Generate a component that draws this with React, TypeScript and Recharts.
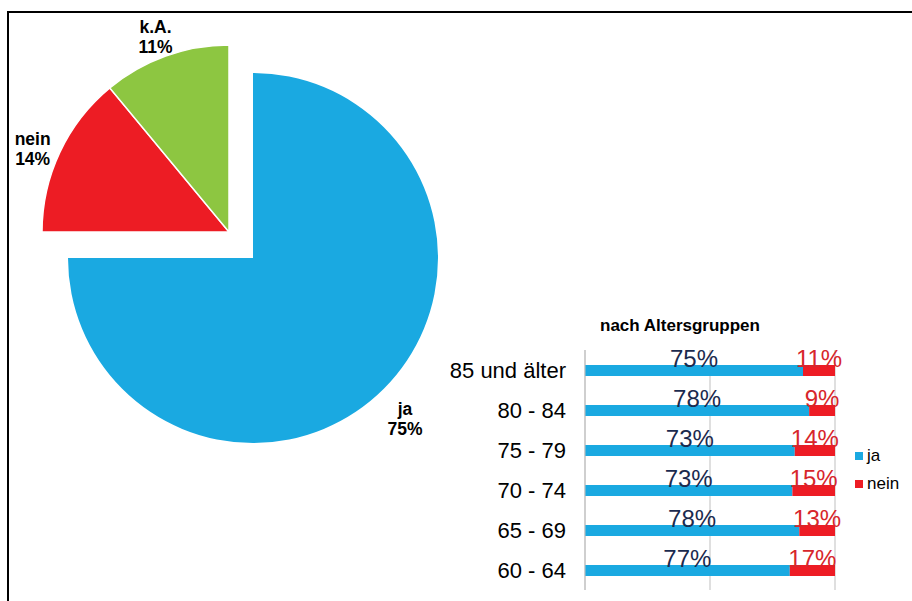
import React from 'react';
import { PieChart, Pie, Cell, BarChart, Bar, XAxis, YAxis, CartesianGrid, LabelList, Legend } from 'recharts';

const FONT = 'Liberation Sans, Arial, Helvetica, sans-serif';

// Pie data
const pieNames = ['ja', 'nein', 'k.A.'];
const pieValues = [75, 14, 11];
const pieColors = ['#1AA9E1', '#ED1C24', '#8DC641'];

// Bar data
const ageGroups = ['85 und älter', '80 - 84', '75 - 79', '70 - 74', '65 - 69', '60 - 64'];
const jaValues = [75, 78, 73, 73, 78, 77];
const neinValues = [11, 9, 14, 15, 13, 17];

const pieData = pieNames.map((name, i) => ({ name, value: pieValues[i] }));
const barData = ageGroups.map((age, i) => ({ age, ja: jaValues[i], nein: neinValues[i] }));

const RADIAN = Math.PI / 180;

const makeLabel = (show: number[]) => (props: any) => {
  const { cx, cy, midAngle, outerRadius, index, name, percent } = props;
  if (!show.includes(index)) return null;
  const r = outerRadius + 30;
  const x = cx + r * Math.cos(-midAngle * RADIAN);
  const y = cy + r * Math.sin(-midAngle * RADIAN) + 6;
  return (
    <g>
      <text x={x} y={y - 1} textAnchor="middle" fontFamily={FONT} fontWeight="bold" fontSize={17.5} fill="#000">
        {name}
      </text>
      <text x={x} y={y + 19} textAnchor="middle" fontFamily={FONT} fontWeight="bold" fontSize={17.5} fill="#000">
        {Math.round(percent * 100) + '%'}
      </text>
    </g>
  );
};

const renderLegend = (props: any) => {
  const { payload } = props;
  return (
    <div style={{ fontFamily: FONT, fontSize: 17, color: '#000' }}>
      {(payload || []).map((p: any) => (
        <div key={p.value} style={{ display: 'flex', alignItems: 'center', height: 28 }}>
          <span style={{ display: 'inline-block', width: 8, height: 8, background: p.color, marginRight: 4 }} />
          <span>{p.value}</span>
        </div>
      ))}
    </div>
  );
};

export default function App() {
  return (
    <div style={{ position: 'absolute', left: 0, top: 0, width: 912, height: 601, background: '#fff', overflow: 'hidden' }}>
      <div style={{ position: 'absolute', left: 0, top: 0 }}>
        <PieChart width={500} height={480} margin={{ top: 0, right: 0, bottom: 0, left: 0 }}>
          <Pie
            data={pieData}
            dataKey="value"
            nameKey="name"
            cx={253}
            cy={258}
            outerRadius={185}
            startAngle={90}
            endAngle={-270}
            stroke="none"
            isAnimationActive={false}
            label={makeLabel([0])}
            labelLine={false}
          >
            {pieData.map((d, i) => (
              <Cell key={d.name} fill={i === 0 ? pieColors[i] : 'transparent'} stroke="none" />
            ))}
          </Pie>
          <Pie
            data={pieData}
            dataKey="value"
            nameKey="name"
            cx={229}
            cy={232}
            outerRadius={187}
            startAngle={90}
            endAngle={-270}
            isAnimationActive={false}
            label={makeLabel([1, 2])}
            labelLine={false}
          >
            {pieData.map((d, i) => (
              <Cell
                key={d.name}
                fill={i === 0 ? 'transparent' : pieColors[i]}
                stroke={i === 0 ? 'none' : '#fff'}
                strokeWidth={1.5}
              />
            ))}
          </Pie>
        </PieChart>
      </div>
      <div style={{ position: 'absolute', left: 0, top: 0 }}>
        <BarChart
          width={912}
          height={601}
          layout="vertical"
          data={barData}
          stackOffset="expand"
          barSize={11}
          margin={{ top: 350, right: 17, bottom: 11, left: 445 }}
        >
          <CartesianGrid horizontal={false} stroke="#BFBFBF" />
          <XAxis type="number" domain={[0, 1]} ticks={[0, 0.5, 1]} hide />
          <YAxis
            type="category"
            dataKey="age"
            width={140}
            axisLine={{ stroke: '#BFBFBF' }}
            tickLine={false}
            tickSize={6}
            tickMargin={13}
            tick={{ fontSize: 22, fill: '#000', fontFamily: FONT }}
          />
          <Legend
            layout="horizontal"
            verticalAlign="middle"
            align="right"
            content={renderLegend}
            wrapperStyle={{ left: 855, top: 442, width: 60 }}
          />
          <Bar dataKey="ja" stackId="a" fill={pieColors[0]} isAnimationActive={false}>
            <LabelList
              dataKey="ja"
              position="top"
              offset={-2}
              formatter={(v: any) => v + '%'}
              fill="#1B2A4E"
              fontSize={24}
              fontFamily={FONT}
            />
          </Bar>
          <Bar dataKey="nein" stackId="a" fill={pieColors[1]} isAnimationActive={false}>
            <LabelList
              dataKey="nein"
              position="top"
              offset={-2}
              formatter={(v: any) => v + '%'}
              fill="#D7262B"
              fontSize={24}
              fontFamily={FONT}
            />
          </Bar>
        </BarChart>
      </div>
      <svg width={912} height={601} style={{ position: 'absolute', left: 0, top: 0, pointerEvents: 'none' }}>
        <line x1={7} y1={12} x2={912} y2={12} stroke="#000" strokeWidth={2} />
        <line x1={8} y1={11} x2={8} y2={601} stroke="#000" strokeWidth={2} />
        <text x={680} y={331} textAnchor="middle" fontFamily={FONT} fontWeight="bold" fontSize={17} fill="#000">
          nach Altersgruppen
        </text>
      </svg>
    </div>
  );
}
